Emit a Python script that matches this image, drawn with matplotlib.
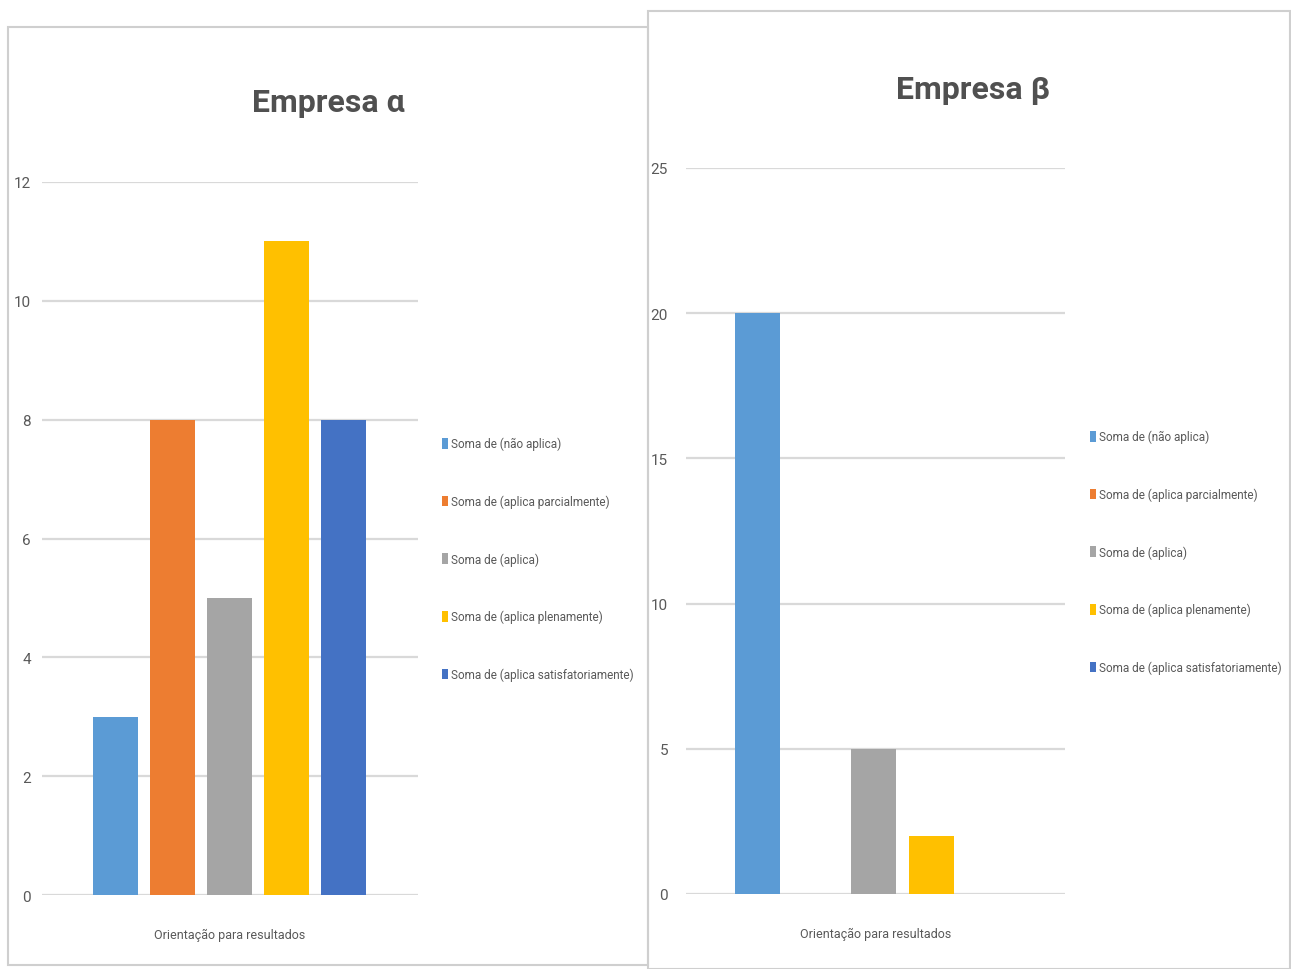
import matplotlib.pyplot as plt
from matplotlib.patches import Patch, Rectangle

# data
series = ["Soma de (não aplica)", "Soma de (aplica parcialmente)", "Soma de (aplica)",
          "Soma de (aplica plenamente)", "Soma de (aplica satisfatoriamente)"]
colors = ["#5B9BD5", "#ED7D31", "#A5A5A5", "#FFC000", "#4472C4"]
category = "Orientação para resultados"
alpha_vals = [3, 8, 5, 11, 8]
beta_vals = [20, 0, 5, 2, 0]

plt.rcParams["font.family"] = ["Roboto", "DejaVu Sans"]

W, H = 1291, 970
fig = plt.figure(figsize=(W / 100, H / 100), dpi=100)
fig.patch.set_facecolor("white")

txt = "#595959"
grid = "#d9d9d9"
LEG_FS = 8.5


def px(x0, y_top, x1, y_bot):
    return [x0 / W, 1 - y_bot / H, (x1 - x0) / W, (y_bot - y_top) / H]


def panel(rect, vals, ymax, step, title, title_xy, leg_xy, ypad, xlim):
    ax = fig.add_axes(px(*rect))
    offs = [i - 2 for i in range(len(vals))]
    for o, v, c in zip(offs, vals, colors):
        ax.bar(o, v, width=0.79, color=c, zorder=3)
    ax.set_xlim(*xlim)
    ax.set_ylim(0, ymax)
    ax.set_yticks(range(0, ymax + 1, step))
    ax.yaxis.grid(True, color=grid, linewidth=1.6, zorder=0)
    ax.set_xticks([])
    ax.tick_params(axis="y", length=0, pad=ypad, labelsize=11, labelcolor=txt)
    for s in ax.spines.values():
        s.set_visible(False)
    ax.set_xlabel(category, fontsize=9, color=txt, labelpad=24)
    fig.text(title_xy[0] / W, 1 - title_xy[1] / H, title, fontsize=23,
             fontweight="bold", color="#505050", ha="center", va="center")
    handles = [Patch(facecolor=c, edgecolor="none") for c in colors]
    fig.legend(handles, series, loc="upper left",
               bbox_to_anchor=(leg_xy[0] / W, 1 - leg_xy[1] / H),
               frameon=False, fontsize=LEG_FS, labelcolor=txt, borderpad=0,
               labelspacing=3.75, handlelength=0.5, handleheight=1.0,
               handletextpad=0.3)
    return ax


# panel frames
fig.add_artist(Rectangle((8 / W, 1 - 966 / H), 640 / W, 938 / H, transform=fig.transFigure,
                         fill=False, edgecolor="#cfcfcf", linewidth=1.5))
fig.add_artist(Rectangle((648 / W, 0), 642 / W, 958 / H, transform=fig.transFigure,
                         fill=False, edgecolor="#cfcfcf", linewidth=1.5))

panel((42, 183, 418, 896), alpha_vals, 12, 2, "Empresa α", (328, 103), (436, 432), 8, (-3.29, 3.306))
panel((686, 169, 1065, 895), beta_vals, 25, 5, "Empresa β", (973, 90), (1084, 425), 13, (-3.233, 3.30))

plt.savefig("out.png", dpi=100)
